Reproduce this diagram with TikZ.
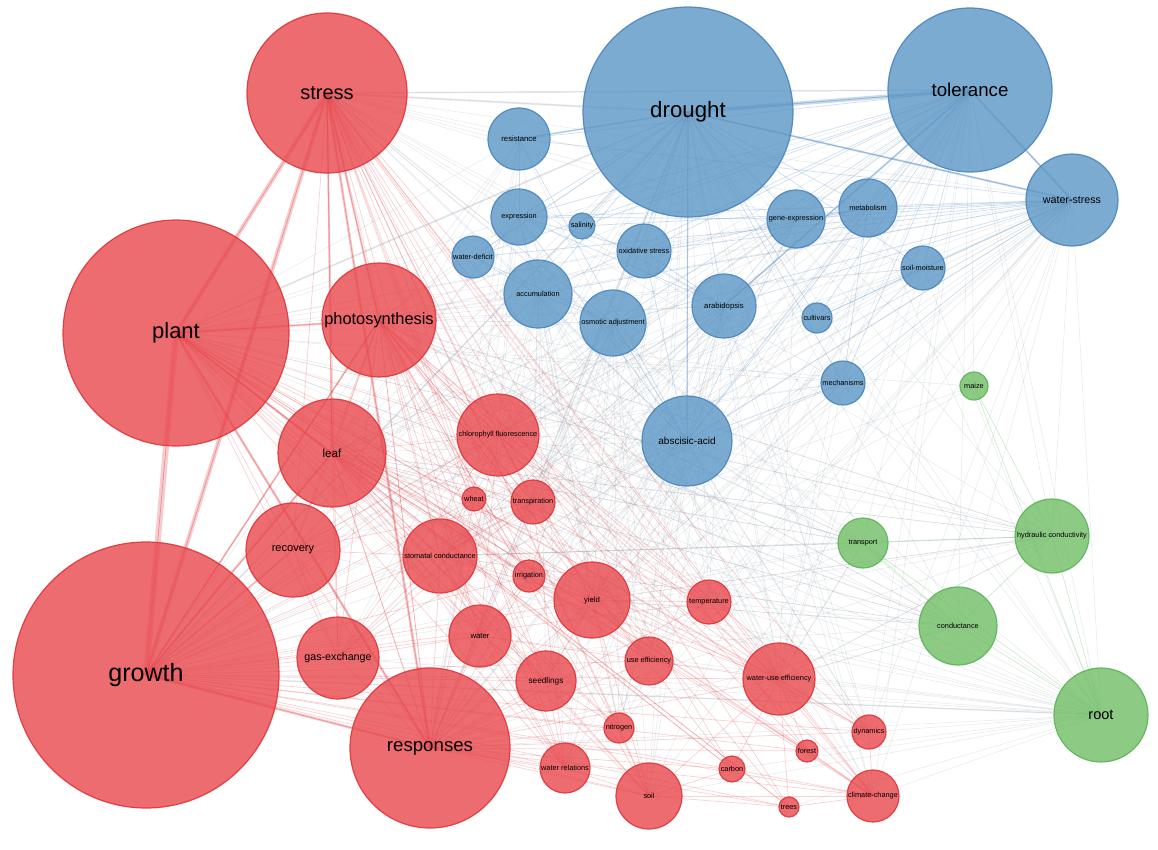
\documentclass[tikz,border=0pt]{standalone}
\usepackage{fontspec}
\setmainfont{Liberation Sans}
\usetikzlibrary{backgrounds}
\definecolor{rfill}{HTML}{E8474C}
\definecolor{rline}{HTML}{E0353B}
\definecolor{bfill}{HTML}{5B96C5}
\definecolor{bline}{HTML}{4A85BE}
\definecolor{gfill}{HTML}{70BE66}
\definecolor{gline}{HTML}{5BB556}
\definecolor{gedge}{HTML}{8C98A4}
\begin{document}
\begin{tikzpicture}[x=0.75pt,y=-0.75pt,
  fs/.style={font=\fontsize{#1}{#1}\selectfont, text=black},
  rn/.style={circle, draw=rline, fill=rfill, fill opacity=0.8, draw opacity=0.9, minimum size=#1*1.5pt, inner sep=0pt, line width=0.9pt},
  bn/.style={circle, draw=bline, fill=bfill, fill opacity=0.8, draw opacity=0.9, minimum size=#1*1.5pt, inner sep=0pt, line width=0.9pt},
  gn/.style={circle, draw=gline, fill=gfill, fill opacity=0.8, draw opacity=0.9, minimum size=#1*1.5pt, inner sep=0pt, line width=0.9pt},
  re/.style={draw=rline, draw opacity=0.22, line width=0.55pt},
  be/.style={draw=bline, draw opacity=0.26, line width=0.55pt},
  ge/.style={draw=gedge, draw opacity=0.18, line width=0.5pt},
  gre/.style={draw=gline, draw opacity=0.3, line width=0.5pt},
  rthick/.style={draw=rline, draw opacity=0.25, line width=#1},
  bthick/.style={draw=bline, draw opacity=0.3, line width=#1},
  gthick/.style={draw=gedge, draw opacity=0.2, line width=#1}
]
\useasboundingbox (0,0) rectangle (1158,850);

% ---------- red cluster ----------
\node[rn=80, label={[fs=15]center:stress}] (stress) at (327,93) {};
\node[rn=113, label={[fs=16.5]center:plant}] (plant) at (176,333) {};
\node[rn=133, label={[fs=18.8]center:growth}] (growth) at (146,675) {};
\node[rn=57, label={[fs=12.3]center:photosynthesis}] (photo) at (379,320) {};
\node[rn=54, label={[fs=8.7]center:leaf}] (leaf) at (332,453) {};
\node[rn=47, label={[fs=8.3]center:recovery}] (recov) at (293,550) {};
\node[rn=41, label={[fs=8]center:gas-exchange}] (gasex) at (338,658) {};
\node[rn=80, label={[fs=14]center:responses}] (resp) at (430,748) {};
\node[rn=41, label={[fs=5.5]center:chlorophyll fluorescence}] (chloro) at (498,435) {};
\node[rn=12, label={[fs=5.5]center:wheat}] (wheat) at (474,499) {};
\node[rn=22, label={[fs=5.5]center:transpiration}] (transp) at (533,502) {};
\node[rn=37, label={[fs=5.5]center:stomatal conductance}] (stomat) at (440,556) {};
\node[rn=16, label={[fs=5.5]center:irrigation}] (irrig) at (529,576) {};
\node[rn=38, label={[fs=5.8]center:yield}] (yield) at (592,600) {};
\node[rn=22, label={[fs=5.5]center:temperature}] (temp) at (709,602) {};
\node[rn=31, label={[fs=5.8]center:water}] (water) at (480,636) {};
\node[rn=30, label={[fs=6.2]center:seedlings}] (seed) at (546,681) {};
\node[rn=24, label={[fs=5.5]center:use efficiency}] (useeff) at (649,661) {};
\node[rn=36, label={[fs=5.5]center:water-use efficiency}] (wue) at (779,679) {};
\node[rn=15, label={[fs=5.5]center:nitrogen}] (nitro) at (619,728) {};
\node[rn=25, label={[fs=5.5]center:water relations}] (wrel) at (565,768) {};
\node[rn=33, label={[fs=5.5]center:soil}] (soil) at (649,796) {};
\node[rn=13, label={[fs=5.5]center:carbon}] (carbon) at (732,769) {};
\node[rn=11, label={[fs=5.5]center:forest}] (forest) at (807,751) {};
\node[rn=10, label={[fs=5.5]center:trees}] (trees) at (789,807) {};
\node[rn=17, label={[fs=5.5]center:dynamics}] (dynam) at (869,732) {};
\node[rn=26, label={[fs=5.5]center:climate-change}] (climate) at (873,796) {};

% ---------- blue cluster ----------
\node[bn=105, label={[fs=16.7]center:drought}] (drought) at (688,112) {};
\node[bn=82, label={[fs=14]center:tolerance}] (toler) at (970,90) {};
\node[bn=46, label={[fs=8]center:water-stress}] (wstress) at (1072,200) {};
\node[bn=31, label={[fs=5.8]center:resistance}] (resist) at (519,139) {};
\node[bn=28, label={[fs=5.5]center:expression}] (expr) at (519,217) {};
\node[bn=13, label={[fs=5.5]center:salinity}] (salin) at (582,226) {};
\node[bn=21, label={[fs=5.5]center:water-deficit}] (wdef) at (473,257) {};
\node[bn=34, label={[fs=5.5]center:accumulation}] (accum) at (538,294) {};
\node[bn=27, label={[fs=5.5]center:oxidative stress}] (oxid) at (644,251) {};
\node[bn=33, label={[fs=5.5]center:osmotic adjustment}] (osmot) at (613,323) {};
\node[bn=32, label={[fs=5.8]center:arabidopsis}] (arab) at (724,306) {};
\node[bn=29, label={[fs=5.5]center:gene-expression}] (geneexp) at (796,219) {};
\node[bn=29, label={[fs=5.5]center:metabolism}] (metab) at (868,208) {};
\node[bn=22, label={[fs=5.5]center:soil-moisture}] (soilm) at (923,268) {};
\node[bn=15, label={[fs=5.5]center:cultivars}] (cultiv) at (817,318) {};
\node[bn=22, label={[fs=5.5]center:mechanisms}] (mech) at (843,383) {};
\node[bn=45, label={[fs=7.5]center:abscisic-acid}] (aba) at (687,441) {};

% ---------- green cluster ----------
\node[gn=14, label={[fs=5.5]center:maize}] (maize) at (974,386) {};
\node[gn=25, label={[fs=5.5]center:transport}] (transport) at (863,543) {};
\node[gn=37, label={[fs=5.5]center:hydraulic conductivity}] (hydr) at (1052,536) {};
\node[gn=39, label={[fs=5.5]center:conductance}] (conduct) at (958,626) {};
\node[gn=47, label={[fs=10.9]center:root}] (root) at (1101,715) {};

\begin{pgfonlayer}{background}
% grey inter-cluster links
\foreach \a in {stress,plant,growth,resp,photo,leaf,chloro,stomat,yield,wue}{
  \foreach \b in {drought,toler,wstress,resist,expr,accum,osmot,arab,aba,metab,geneexp,soilm,mech,root,conduct,hydr,transport}{
    \draw[ge] (\a.center) -- (\b.center);
  }
}
\foreach \a in {drought,toler,wstress,aba,arab,accum,osmot}{
  \foreach \b in {recov,gasex,transp,temp,water,seed,useeff,wrel,soil,climate,dynam,irrig,nitro}{
    \draw[ge] (\a.center) -- (\b.center);
  }
}
\foreach \b in {recov,gasex,transp,temp,water,seed,useeff,soil,climate,dynam,carbon,forest,trees,drought,toler,wstress,aba,mech,soilm,metab,cultiv}{
  \draw[ge] (root.center) -- (\b.center);
}
\foreach \b in {drought,toler,wstress,aba,temp,wue,yield,stomat,leaf,photo,plant}{
  \draw[ge] (conduct.center) -- (\b.center);
  \draw[ge] (hydr.center) -- (\b.center);
}
\foreach \b in {drought,toler,aba,photo,leaf,stomat,chloro}{
  \draw[ge] (transport.center) -- (\b.center);
}
\foreach \b in {drought,toler,wstress,plant,growth,yield}{
  \draw[ge] (maize.center) -- (\b.center);
}
% red intra-cluster links
\foreach \a in {stress,plant,growth,resp,photo,leaf}{
  \foreach \b in {stress,plant,growth,photo,leaf,recov,gasex,resp,chloro,wheat,transp,stomat,irrig,yield,temp,water,seed,useeff,wue,nitro,wrel,soil,carbon,forest,trees,dynam,climate}{
    \draw[re] (\a.center) -- (\b.center);
  }
}
\foreach \a/\b in {chloro/stomat,chloro/transp,chloro/yield,chloro/water,chloro/temp,chloro/wue,chloro/recov,chloro/gasex,
  stomat/transp,stomat/water,stomat/yield,stomat/wue,stomat/seed,stomat/wrel,stomat/recov,stomat/gasex,
  yield/wue,yield/useeff,yield/irrig,yield/nitro,yield/soil,yield/climate,yield/temp,yield/seed,
  wue/useeff,wue/climate,wue/carbon,wue/trees,wue/dynam,wue/forest,wue/soil,wue/temp,
  soil/nitro,soil/carbon,soil/wrel,soil/climate,soil/trees,soil/seed,
  climate/dynam,climate/forest,climate/trees,climate/carbon,climate/temp,
  seed/water,seed/wrel,seed/nitro,water/wrel,water/irrig,water/useeff,
  recov/gasex,recov/transp,gasex/water,gasex/transp,wheat/yield,wheat/irrig,transp/wrel,transp/wue}{
  \draw[re] (\a.center) -- (\b.center);
}
% blue intra-cluster links
\foreach \a in {drought,toler,wstress}{
  \foreach \b in {drought,toler,wstress,resist,expr,salin,wdef,accum,oxid,osmot,arab,geneexp,metab,soilm,cultiv,mech,aba}{
    \draw[be] (\a.center) -- (\b.center);
  }
}
\foreach \a/\b in {aba/arab,aba/osmot,aba/accum,aba/expr,aba/resist,aba/geneexp,aba/metab,aba/mech,aba/oxid,
  arab/geneexp,arab/expr,arab/oxid,arab/salin,accum/osmot,accum/expr,accum/wdef,osmot/wdef,oxid/expr,
  geneexp/expr,geneexp/metab,metab/oxid,resist/expr,soilm/cultiv,mech/metab}{
  \draw[be] (\a.center) -- (\b.center);
}
% green links
\foreach \a/\b in {root/hydr,root/conduct,root/transport,root/maize,hydr/conduct,hydr/transport,conduct/transport,maize/hydr}{
  \draw[gre] (\a.center) -- (\b.center);
}
% heavy links
\draw[rthick=4.5pt] (plant.center) -- (growth.center);
\draw[rthick=3.2pt] (stress.center) -- (plant.center);
\draw[rthick=3.2pt] (stress.center) -- (growth.center);
\draw[rthick=2pt] (growth.center) -- (resp.center);
\draw[rthick=2pt] (plant.center) -- (resp.center);
\draw[rthick=2pt] (stress.center) -- (resp.center);
\draw[rthick=1.6pt] (stress.center) -- (photo.center);
\draw[rthick=1.6pt] (plant.center) -- (photo.center);
\draw[rthick=1.6pt] (growth.center) -- (leaf.center);
\draw[rthick=1.6pt] (plant.center) -- (leaf.center);
\draw[rthick=1.4pt] (growth.center) -- (recov.center);
\draw[rthick=1.4pt] (growth.center) -- (photo.center);
\draw[rthick=1.4pt] (stress.center) -- (leaf.center);
\draw[bthick=3pt] (drought.center) -- (toler.center);
\draw[bthick=1pt] (drought.center) -- (aba.center);
\draw[bthick=1.5pt] (drought.center) -- (wstress.center);
\draw[bthick=1.5pt] (toler.center) -- (wstress.center);
\draw[bthick=1.2pt] (drought.center) -- (resist.center);
\draw[bthick=1.2pt] (toler.center) -- (arab.center);
\draw[gthick=1.6pt] (stress.center) -- (drought.center);
\draw[gthick=1.3pt] (stress.center) -- (toler.center);
\draw[gthick=1.3pt] (plant.center) -- (drought.center);
\draw[gthick=1.3pt] (growth.center) -- (drought.center);
\draw[gthick=1.1pt] (growth.center) -- (root.center);
\draw[gthick=1.1pt] (resp.center) -- (drought.center);
\end{pgfonlayer}
\end{tikzpicture}
\end{document}
